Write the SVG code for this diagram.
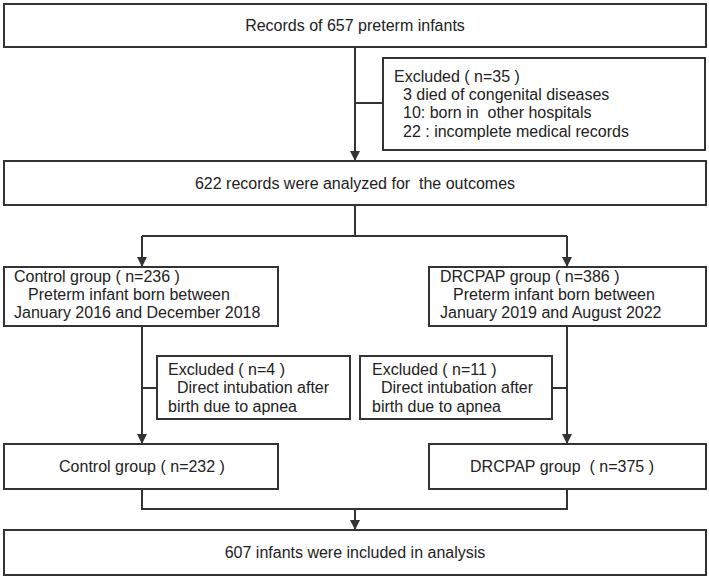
<svg xmlns="http://www.w3.org/2000/svg" width="709" height="579" viewBox="0 0 709 579">
<defs>
<marker id="arr" markerWidth="10" markerHeight="12" refX="9" refY="5" orient="auto" markerUnits="userSpaceOnUse">
<path d="M0,0 L10,5 L0,10 Z" fill="#333"/>
</marker>
<style>
.box{fill:#fff;stroke:#333;stroke-width:2}
.ln{fill:none;stroke:#333;stroke-width:2}
text{font-family:"Liberation Sans",Arial,sans-serif;font-size:16px;fill:#222;white-space:pre}
.c{text-anchor:middle}
</style>
</defs>
<rect width="709" height="579" fill="#fff"/>
<g id="connectors">
<line class="ln" x1="355" y1="47" x2="355" y2="160" marker-end="url(#arr)"/>
<line class="ln" x1="355" y1="103" x2="383" y2="103"/>
<path class="ln" d="M355,205 V236 M142,236 H567"/>
<line class="ln" x1="142" y1="236" x2="142" y2="266" marker-end="url(#arr)"/>
<line class="ln" x1="567" y1="236" x2="567" y2="266" marker-end="url(#arr)"/>
<line class="ln" x1="142" y1="326" x2="142" y2="443" marker-end="url(#arr)"/>
<line class="ln" x1="567" y1="326" x2="567" y2="443" marker-end="url(#arr)"/>
<line class="ln" x1="142" y1="388" x2="157" y2="388"/>
<line class="ln" x1="552" y1="388" x2="567" y2="388"/>
<path class="ln" d="M142,489 V509 H567 V489"/>
<line class="ln" x1="355" y1="509" x2="355" y2="529" marker-end="url(#arr)"/>
</g>
<g id="n1">
<rect class="box" x="4" y="4" width="702" height="43"/>
<text class="c" x="355" y="31">Records of 657 preterm infants</text>
</g>
<g id="ex1">
<rect class="box" x="383" y="58" width="322" height="92"/>
<text x="394" y="82">Excluded ( n=35 )</text>
<text x="403" y="100">3 died of congenital diseases</text>
<text x="403" y="118">10: born in  other hospitals</text>
<text x="403" y="137">22 : incomplete medical records</text>
</g>
<g id="n2">
<rect class="box" x="4" y="161" width="702" height="44"/>
<text class="c" x="355" y="189">622 records were analyzed for  the outcomes</text>
</g>
<g id="ctrl1">
<rect class="box" x="4" y="267" width="274" height="59"/>
<text x="14" y="282">Control group ( n=236 )</text>
<text x="28" y="300">Preterm infant born between</text>
<text x="14" y="318">January 2016 and December 2018</text>
</g>
<g id="dr1">
<rect class="box" x="429" y="267" width="277" height="59"/>
<text x="440" y="282">DRCPAP group ( n=386 )</text>
<text x="453" y="300">Preterm infant born between</text>
<text x="440" y="318">January 2019 and August 2022</text>
</g>
<g id="ex2">
<rect class="box" x="157" y="356" width="193" height="63"/>
<text x="168" y="375">Excluded ( n=4 )</text>
<text x="177" y="393">Direct intubation after</text>
<text x="168" y="412">birth due to apnea</text>
</g>
<g id="ex3">
<rect class="box" x="360" y="356" width="192" height="63"/>
<text x="372" y="375">Excluded ( n=11 )</text>
<text x="381" y="393">Direct intubation after</text>
<text x="372" y="412">birth due to apnea</text>
</g>
<g id="ctrl2">
<rect class="box" x="4" y="444" width="274" height="45"/>
<text class="c" x="142" y="472">Control group ( n=232 )</text>
</g>
<g id="dr2">
<rect class="box" x="429" y="444" width="277" height="45"/>
<text class="c" x="562" y="472">DRCPAP group  ( n=375 )</text>
</g>
<g id="n3">
<rect class="box" x="4" y="530" width="702" height="45"/>
<text class="c" x="355" y="558">607 infants were included in analysis</text>
</g>
</svg>
